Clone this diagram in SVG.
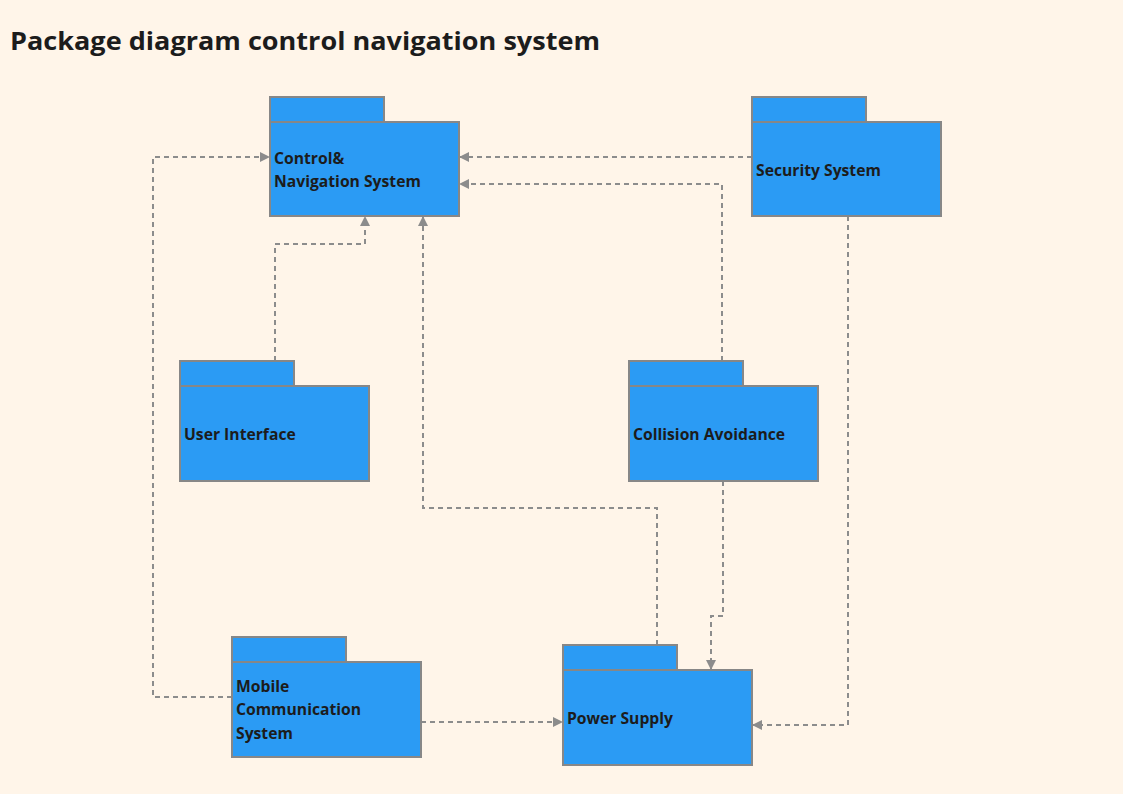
<svg xmlns="http://www.w3.org/2000/svg" width="1123" height="794" viewBox="0 0 1123 794">
<defs>
<style>
.pk{fill:#2b9bf4;stroke:#878787;stroke-width:2}
.lb{font-family:"Open Sans","Noto Sans",sans-serif;font-weight:bold;font-size:15.7px;fill:#1c1c1c}
.cn{fill:none;stroke:#8c8c8c;stroke-width:2;stroke-dasharray:5 4;marker-end:url(#ar)}
</style>
<marker id="ar" viewBox="0 0 10 10" refX="10" refY="5" markerWidth="11" markerHeight="10" markerUnits="userSpaceOnUse" orient="auto">
<path d="M0,0 L10,5 L0,10 z" fill="#8c8c8c"/>
</marker>
</defs>
<rect width="1123" height="794" fill="#fff5e9"/>
<text x="10" y="50" font-family="Open Sans,Noto Sans,sans-serif" font-weight="bold" font-size="25" fill="#1c1c1c" textLength="590" lengthAdjust="spacingAndGlyphs">Package diagram control navigation system</text>
<g id="connectors">
<path class="cn" d="M232,697 H153 V157 H270"/>
<path class="cn" d="M275,361 V244 H365 V216"/>
<path class="cn" d="M657,645 V508 H423 V216"/>
<path class="cn" d="M752,157 H459"/>
<path class="cn" d="M722,361 V184 H459"/>
<path class="cn" d="M723,481 V616 H711 V670"/>
<path class="cn" d="M848,216 V725 H752"/>
<path class="cn" d="M421,722 H563"/>
</g>
<g id="control-navigation">
<rect class="pk" x="270" y="97" width="114" height="25"/>
<rect class="pk" x="270" y="122" width="189" height="94"/>
<text class="lb" x="274" y="164">Control&amp;</text>
<text class="lb" x="274" y="187">Navigation System</text>
</g>
<g id="security-system">
<rect class="pk" x="752" y="97" width="114" height="25"/>
<rect class="pk" x="752" y="122" width="189" height="94"/>
<text class="lb" x="756" y="176">Security System</text>
</g>
<g id="user-interface">
<rect class="pk" x="180" y="361" width="114" height="25"/>
<rect class="pk" x="180" y="386" width="189" height="95"/>
<text class="lb" x="184" y="440">User Interface</text>
</g>
<g id="collision-avoidance">
<rect class="pk" x="629" y="361" width="114" height="25"/>
<rect class="pk" x="629" y="386" width="189" height="95"/>
<text class="lb" x="633" y="440">Collision Avoidance</text>
</g>
<g id="mobile-communication">
<rect class="pk" x="232" y="637" width="114" height="25"/>
<rect class="pk" x="232" y="662" width="189" height="95"/>
<text class="lb" x="236" y="692">Mobile</text>
<text class="lb" x="236" y="715">Communication</text>
<text class="lb" x="236" y="739">System</text>
</g>
<g id="power-supply">
<rect class="pk" x="563" y="645" width="114" height="25"/>
<rect class="pk" x="563" y="670" width="189" height="95"/>
<text class="lb" x="567" y="724">Power Supply</text>
</g>
</svg>
